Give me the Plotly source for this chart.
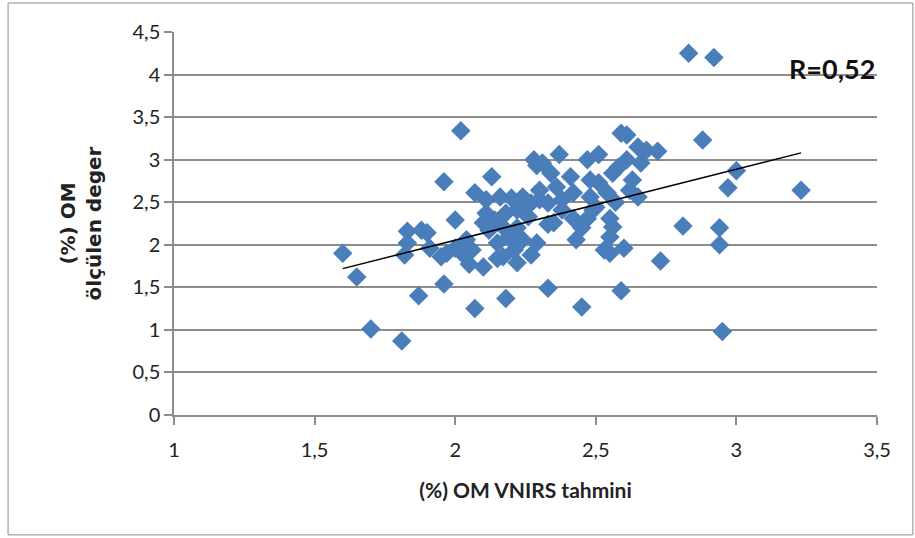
import plotly.graph_objects as go

om_vnirs = [1.60, 1.65, 1.70, 1.81, 1.82, 1.83, 1.83, 1.87, 1.88, 1.90, 1.91, 1.95, 1.96, 1.96, 1.97,
            2.00, 2.00, 2.02, 2.02, 2.03, 2.04, 2.05, 2.06, 2.07, 2.07, 2.10, 2.10, 2.11, 2.11, 2.12,
            2.13, 2.14, 2.15, 2.15, 2.16, 2.17, 2.17, 2.18, 2.18, 2.19, 2.20, 2.21, 2.22, 2.22, 2.22,
            2.24, 2.24, 2.26, 2.27, 2.27, 2.29, 2.30, 2.28, 2.29, 2.31, 2.34, 2.33, 2.33, 2.30, 2.36,
            2.33, 2.35, 2.37, 2.38, 2.41, 2.42, 2.42, 2.43, 2.45, 2.45, 2.47, 2.48, 2.48, 2.50, 2.51,
            2.51, 2.53, 2.55, 2.55, 2.55, 2.56, 2.56, 2.57, 2.58, 2.59, 2.60, 2.61, 2.59, 2.61, 2.63,
            2.65, 2.65, 2.66, 2.68, 2.72, 2.73, 2.81, 2.83, 2.88, 2.92, 2.94, 2.94, 2.95, 2.97, 3.00,
            3.23, 2.49, 2.38, 2.62, 2.47, 2.54, 2.24]
om_measured = [1.90, 1.62, 1.01, 0.87, 1.88, 2.16, 2.02, 1.40, 2.17, 2.14, 1.96, 1.86, 2.74, 1.54, 1.90,
               2.29, 1.96, 3.34, 1.97, 1.88, 2.06, 1.77, 1.94, 1.25, 2.61, 1.74, 2.26, 2.53, 2.37, 2.17,
               2.80, 2.29, 1.84, 2.02, 2.56, 2.21, 1.86, 2.37, 1.37, 2.09, 2.55, 1.94, 2.41, 2.20, 1.79,
               2.56, 2.06, 2.33, 2.49, 1.88, 2.02, 2.53, 3.00, 2.93, 2.96, 2.84, 1.49, 2.24, 2.64, 2.68,
               2.49, 2.26, 3.06, 2.53, 2.80, 2.61, 2.31, 2.06, 2.20, 1.27, 3.00, 2.76, 2.56, 2.44, 3.06,
               2.73, 1.94, 2.31, 2.09, 1.90, 2.21, 2.84, 2.50, 2.91, 3.31, 1.96, 3.29, 1.46, 3.00, 2.76,
               2.56, 3.15, 2.96, 3.11, 3.10, 1.81, 2.22, 4.25, 3.23, 4.20, 2.20, 2.00, 0.98, 2.67, 2.87,
               2.64, 2.41, 2.41, 2.64, 2.31, 2.61, 2.44]

# Linear trend line end points
trend_x = [1.60, 3.23]
trend_y = [1.72, 3.08]

r_label = "R=0,52"
x_title = "(%) OM VNIRS tahmini"
y_title = "(%) OM<br>ölçülen deger"

FONT = "Lato, 'Liberation Sans', sans-serif"
YT_FONT = "'DejaVu Sans', Verdana, sans-serif"
GRID = "#8c8c8c"

fig = go.Figure()
fig.add_trace(go.Scatter(
    x=om_vnirs, y=om_measured, mode="markers",
    marker=dict(symbol="diamond", size=15, color="#4a7ebb", line=dict(width=0)),
    showlegend=False, hoverinfo="x+y"))
fig.add_trace(go.Scatter(
    x=trend_x, y=trend_y, mode="lines",
    line=dict(color="black", width=1.5),
    showlegend=False, hoverinfo="skip"))

fig.update_layout(
    width=915, height=538,
    margin=dict(l=174, r=38, t=32, b=123),
    paper_bgcolor="white", plot_bgcolor="white",
    separators=", ",
    font=dict(family=FONT, size=20, color="#222"),
    xaxis=dict(range=[1, 3.5], dtick=0.5, tick0=1, showgrid=False, zeroline=False,
               showline=True, linecolor=GRID, linewidth=1.5,
               ticks="outside", ticklen=8, tickcolor=GRID, tickwidth=1.5,
               ticklabelstandoff=8,
               tickfont=dict(size=20, family=FONT, color="#222"),
               title=dict(text=f"<b>{x_title}</b>", font=dict(size=21, family=FONT, color="#222"), standoff=24)),
    yaxis=dict(range=[0, 4.5], dtick=0.5, tick0=0, showgrid=True, gridcolor=GRID, gridwidth=1.5,
               zeroline=False, showline=True, linecolor=GRID, linewidth=1.5,
               ticks="outside", ticklen=8, tickcolor=GRID, tickwidth=1.5,
               tickfont=dict(size=20, family=FONT, color="#222"),
               title=dict(text=f"<b>{y_title}</b>", font=dict(size=20, family=YT_FONT, color="#222"), standoff=26)),
    shapes=[dict(type="rect", xref="paper", yref="paper",
                 x0=-0.236, x1=1.051, y0=-0.313, y1=1.0757,
                 line=dict(color="#8c8c8c", width=1), fillcolor="rgba(0,0,0,0)", layer="below")],
    annotations=[dict(text=f"<b>{r_label}</b>", x=1.0, y=0.905, xref="paper", yref="paper",
                      xanchor="right", yanchor="middle", showarrow=False,
                      font=dict(size=27, family=FONT, color="#111"))],
)

fig.write_html("out.html")
